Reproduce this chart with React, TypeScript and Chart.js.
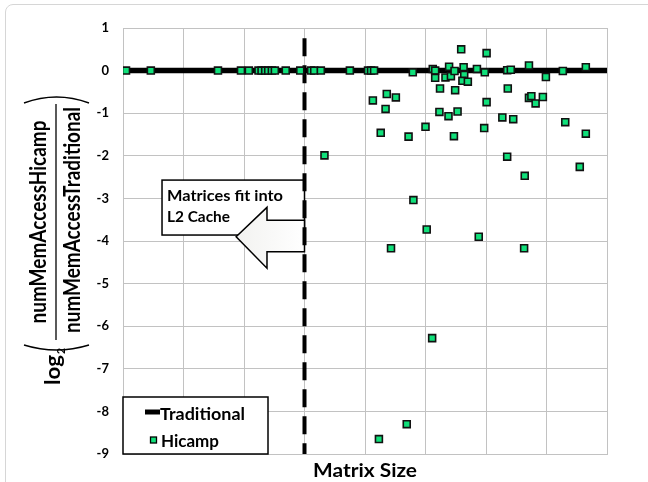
import React, { useEffect, useRef } from 'react';
import { Chart, registerables } from 'chart.js';

Chart.register(...registerables);

// ---------- data ----------
const hicampX = [
  0.05, 0.46, 1.57, 1.95, 2.08, 2.24, 2.29, 2.35, 2.40, 2.46, 2.51, 2.69, 2.93, 3.11, 3.16, 3.27,
  3.75, 4.05, 4.10, 4.15, 4.79, 5.12, 5.16, 5.16, 5.33, 5.39, 5.42, 5.48, 5.59, 5.63, 5.64, 5.61,
  5.70, 5.85, 6.01, 5.98, 6.35, 6.41, 6.71, 6.99, 7.27, 7.65,
  5.24, 5.49, 6.36, 4.13, 4.36, 4.51, 4.34, 5.23, 5.38, 5.53, 6.01, 6.71, 6.75, 6.82, 6.94,
  6.27, 6.45, 4.26, 4.72, 5.00, 5.47, 5.97, 7.31, 7.65, 3.33, 6.35, 6.64, 7.55,
  4.80, 5.02, 5.88, 4.43, 6.63, 5.11, 4.69, 4.23,
];
const hicampY = [
  0, 0, 0, 0, 0, 0, 0, 0, 0, 0, 0, 0, 0, 0, 0, 0,
  0, 0, 0, 0, -0.04, 0.04, 0.0, -0.17, -0.16, 0.09, -0.13, -0.01, 0.5, 0.08, -0.1, -0.24,
  -0.26, 0.04, 0.41, -0.04, 0.01, 0.02, 0.12, -0.15, -0.01, 0.08,
  -0.42, -0.46, -0.42, -0.7, -0.55, -0.63, -0.9, -0.97, -1.07, -0.96, -0.74, -0.64, -0.6, -0.77, -0.62,
  -1.1, -1.14, -1.46, -1.55, -1.32, -1.54, -1.35, -1.21, -1.48, -1.99, -2.02, -2.47, -2.26,
  -3.04, -3.73, -3.9, -4.17, -4.17, -6.28, -8.3, -8.65,
];
const traditionalX = [0, 8];
const traditionalY = [0, 0];
const cacheBoundaryX = [3, 3];
const cacheBoundaryY = [0.76, -9];

const xMin = 0;
const xMax = 8;
const yMin = -9;
const yMax = 1;

const seriesNames = ['Hicamp', 'Traditional'];
const xTitle = 'Matrix Size';
const yTitleFn = 'log';
const yTitleSub = '2';
const yTitleNumerator = 'numMemAccessHicamp';
const yTitleDenominator = 'numMemAccessTraditional';
const calloutLines = ['Matrices fit into', 'L2 Cache'];

// ---------- styles ----------
const FONT = 'Lato, "Open Sans", sans-serif';
const GRID = '#c2c2c2';
const GREEN = '#10e07a';

function fitText(
  ctx: CanvasRenderingContext2D,
  text: string,
  x: number,
  y: number,
  width: number,
  font: string,
  center = false
) {
  ctx.save();
  ctx.font = font;
  ctx.textAlign = 'left';
  ctx.textBaseline = 'alphabetic';
  const w = ctx.measureText(text).width;
  ctx.translate(x, y);
  ctx.scale(width / w, 1);
  ctx.fillText(text, center ? -w / 2 : 0, 0);
  ctx.restore();
}

const decorPlugin = {
  id: 'decor',
  beforeDatasetsDraw(chart: any) {
    const ctx: CanvasRenderingContext2D = chart.ctx;
    const xs = chart.scales.x;
    const ys = chart.scales.y;
    const px = (v: number) => xs.getPixelForValue(v);
    const py = (v: number) => ys.getPixelForValue(v);
    ctx.save();
    // callout box
    const l = px(0.645), r = px(3.0), t = py(-2.57), b = py(-3.86);
    ctx.fillStyle = '#ffffff';
    ctx.fillRect(l, t, r - l, b - t);
    ctx.strokeStyle = '#000';
    ctx.lineWidth = 1.5;
    ctx.strokeRect(l, t, r - l, b - t);
    // arrow
    const pts = [
      [3.0, -3.51], [2.38, -3.51], [2.38, -3.21], [1.87, -3.9],
      [2.38, -4.64], [2.38, -4.25], [3.0, -4.25],
    ];
    ctx.beginPath();
    pts.forEach(([x, y], i) => (i ? ctx.lineTo(px(x), py(y)) : ctx.moveTo(px(x), py(y))));
    ctx.closePath();
    const g = ctx.createLinearGradient(px(1.87), 0, px(3.0), 0);
    g.addColorStop(0, '#f2f2f0');
    g.addColorStop(1, '#ffffff');
    ctx.fillStyle = g;
    ctx.fill();
    ctx.stroke();
    ctx.fillStyle = '#000';
    fitText(ctx, calloutLines[0], px(0.727), py(-3.05), 116, `bold 14.5px ${FONT}`);
    fitText(ctx, calloutLines[1], px(0.727), py(-3.55), 63, `bold 14.5px ${FONT}`);
    ctx.restore();
  },
  afterDraw(chart: any) {
    const ctx: CanvasRenderingContext2D = chart.ctx;
    const ca = chart.chartArea;
    ctx.save();
    ctx.fillStyle = '#000';
    ctx.strokeStyle = '#000';

    // legend
    const L = ca.left, B = ca.bottom;
    ctx.fillStyle = '#fff';
    ctx.fillRect(L, B - 57, 145, 57);
    ctx.lineWidth = 1.5;
    ctx.strokeRect(L, B - 57, 145, 57);
    ctx.lineWidth = 5;
    ctx.beginPath();
    ctx.moveTo(L + 22, B - 42);
    ctx.lineTo(L + 37, B - 42);
    ctx.stroke();
    ctx.fillStyle = '#000';
    fitText(ctx, seriesNames[1], L + 37, B - 34, 85, `bold 17px ${FONT}`);
    ctx.fillStyle = GREEN;
    ctx.fillRect(L + 27.5, B - 17, 6, 6);
    ctx.lineWidth = 1.3;
    ctx.strokeRect(L + 27.5, B - 17, 6, 6);
    ctx.fillStyle = '#000';
    fitText(ctx, seriesNames[0], L + 38, B - 6.7, 58, `bold 17px ${FONT}`);

    // x title
    fitText(ctx, xTitle, (ca.left + ca.right) / 2, 477, 104, `bold 19px ${FONT}`, true);

    // y title (rotated fraction)
    ctx.translate(56, 222);
    ctx.rotate(-Math.PI / 2);
    ctx.lineWidth = 1.3;
    ctx.beginPath();
    ctx.moveTo(-118, 0);
    ctx.lineTo(118, 0);
    ctx.stroke();
    fitText(ctx, yTitleNumerator, 0, -10, 203, `bold 22px ${FONT}`, true);
    fitText(ctx, yTitleDenominator, 2, 24, 226, `bold 22px ${FONT}`, true);
    // parentheses
    ctx.lineWidth = 1.4;
    ctx.beginPath();
    ctx.moveTo(119, -32);
    ctx.quadraticCurveTo(131, 0.5, 119, 33);
    ctx.stroke();
    ctx.beginPath();
    ctx.moveTo(-123, -32);
    ctx.quadraticCurveTo(-133, 0.5, -123, 33);
    ctx.stroke();
    fitText(ctx, yTitleFn, -163, 4, 30, `bold 21px ${FONT}`);
    fitText(ctx, yTitleSub, -132, 9, 6, `bold 12px ${FONT}`);
    ctx.restore();
  },
};

export default function App() {
  const ref = useRef<HTMLCanvasElement | null>(null);

  useEffect(() => {
    let chart: Chart | null = null;
    let cancelled = false;
    const make = () => {
      if (cancelled || !ref.current) return;
      chart = new Chart(ref.current, {
        type: 'scatter',
        data: {
          datasets: [
            {
              label: seriesNames[0],
              data: hicampX.map((x, i) => ({ x, y: hicampY[i] })),
              pointStyle: 'rect',
              pointRadius: 4.9,
              backgroundColor: GREEN,
              borderColor: '#111',
              borderWidth: 1.6,
              showLine: false,
              order: 0,
            },
            {
              label: seriesNames[1],
              data: traditionalX.map((x, i) => ({ x, y: traditionalY[i] })),
              showLine: true,
              borderColor: '#000',
              borderWidth: 5.5,
              pointRadius: 0,
              order: 2,
            },
            {
              label: 'L2 boundary',
              data: cacheBoundaryX.map((x, i) => ({ x, y: cacheBoundaryY[i] })),
              showLine: true,
              borderColor: '#000',
              borderWidth: 4,
              borderDash: [18, 9],
              pointRadius: 0,
              order: 1,
            },
          ],
        },
        options: {
          responsive: false,
          animation: false,
          devicePixelRatio: 1,
          layout: { padding: { left: 0, right: 41, top: 28, bottom: 0 } },
          plugins: { legend: { display: false }, tooltip: { enabled: false } },
          scales: {
            x: {
              type: 'linear',
              min: xMin,
              max: xMax,
              ticks: { stepSize: 1, display: false },
              grid: { color: GRID, lineWidth: 1, drawTicks: false },
              border: { color: GRID },
              afterFit: (s: any) => {
                s.height = 28;
              },
            },
            y: {
              type: 'linear',
              min: yMin,
              max: yMax,
              ticks: {
                stepSize: 1,
                color: '#000',
                padding: 14,
                font: { family: FONT, size: 13, weight: 'bold' },
              },
              grid: { color: GRID, lineWidth: 1, drawTicks: false },
              border: { color: GRID },
              afterFit: (s: any) => {
                s.width = 123;
              },
            },
          },
        },
        plugins: [decorPlugin],
      } as any);
    };
    const fonts: any = (document as any).fonts;
    if (fonts && fonts.load) {
      Promise.all([fonts.load(`bold 12px Lato`), fonts.load(`12px Lato`)])
        .catch(() => null)
        .then(make);
    } else {
      make();
    }
    return () => {
      cancelled = true;
      if (chart) chart.destroy();
    };
  }, []);

  return (
    <div
      style={{
        position: 'fixed',
        left: 0,
        top: 0,
        width: 648,
        height: 482,
        overflow: 'hidden',
        background: '#fff',
      }}
    >
      <canvas ref={ref} width={648} height={482} style={{ display: 'block' }} />
      <div
        style={{
          position: 'absolute',
          left: 5,
          top: 4,
          width: 700,
          height: 600,
          border: '1.5px solid #d6d6d6',
          borderRadius: 8,
          pointerEvents: 'none',
        }}
      />
    </div>
  );
}
